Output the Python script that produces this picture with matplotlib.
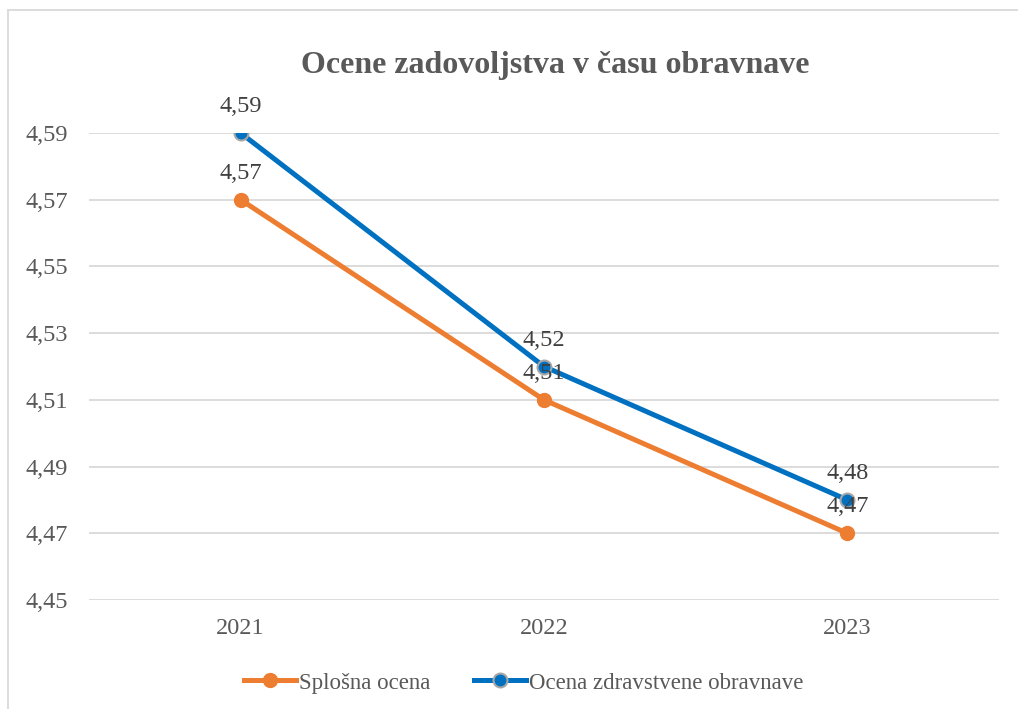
import matplotlib.pyplot as plt
from matplotlib.lines import Line2D
from matplotlib.ticker import FuncFormatter

plt.rcParams['font.family'] = ['Liberation Serif', 'DejaVu Serif']

years = ['2021', '2022', '2023']
splosna = [4.57, 4.51, 4.47]
zdravstvena = [4.59, 4.52, 4.48]
y_ticks = [4.45, 4.47, 4.49, 4.51, 4.53, 4.55, 4.57, 4.59]

ORANGE = '#ED7D31'
BLUE = '#0070C0'
GRID = '#D9D9D9'
TEXT = '#595959'
FS = 17.5

fig = plt.figure(figsize=(10.18, 7.09), dpi=100)
ax = fig.add_axes([89 / 1018, 109 / 709, 910 / 1018, 467 / 709])

x = list(range(len(years)))
ax.plot(x, splosna, color=ORANGE, lw=3.6, marker='o', ms=10,
        mfc=ORANGE, mec=ORANGE, label='Splošna ocena', zorder=3)
ax.plot(x, zdravstvena, color=BLUE, lw=3.6, marker='o', ms=10,
        mfc=BLUE, mec='#A6A6A6', mew=1.5, label='Ocena zdravstvene obravnave', zorder=4)

# value labels above each point
for series in (splosna, zdravstvena):
    for xi, v in zip(x, series):
        ax.annotate(f'{v:.2f}'.replace('.', ','), (xi, v), xytext=(0, 15),
                    textcoords='offset points', ha='center', va='baseline',
                    fontsize=FS, color='#404040', zorder=5)

ax.set_xlim(-0.5, 2.5)
ax.set_ylim(4.45, 4.59)
ax.set_yticks(y_ticks)
ax.yaxis.set_major_formatter(FuncFormatter(lambda v, p: f'{v:.2f}'.replace('.', ',')))
ax.set_xticks(x)
ax.set_xticklabels(years)
ax.tick_params(axis='both', length=0, labelsize=FS, labelcolor=TEXT)
ax.tick_params(axis='x', pad=13)
ax.tick_params(axis='y', pad=15)
ax.grid(axis='y', color=GRID, lw=1.3)
ax.set_axisbelow(True)
for s in ax.spines.values():
    s.set_visible(False)

fig.text(555 / 1018, 1 - 66 / 709, 'Ocene zadovoljstva v času obravnave',
         ha='center', va='center', fontsize=23, fontweight='bold', color=TEXT)

fig.legend(loc='center', bbox_to_anchor=(0.514, 1 - 683 / 709), ncol=2,
           frameon=False, fontsize=16.5, handlelength=2.3, columnspacing=1.9,
           handletextpad=0.1, labelcolor=TEXT)

# chart border
fig.add_artist(Line2D([8 / 1018, 8 / 1018], [0, 1 - 10 / 709], color=GRID, lw=1.3))
fig.add_artist(Line2D([8 / 1018, 1], [1 - 10 / 709, 1 - 10 / 709], color=GRID, lw=1.3))

fig.savefig('out.png', dpi=100)
